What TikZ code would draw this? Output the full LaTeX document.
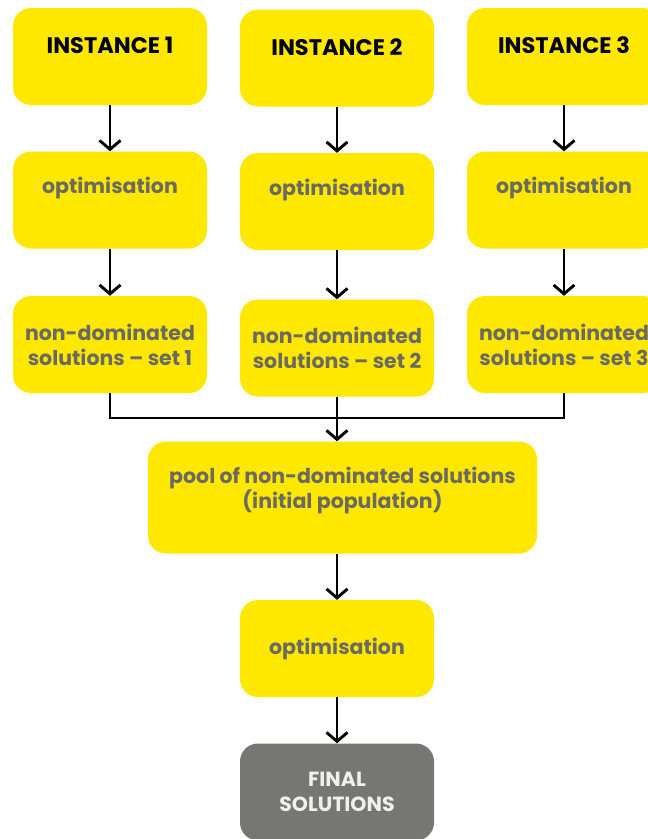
\documentclass[tikz,border=0pt]{standalone}
\usepackage{fontspec}
\setmainfont{Poppins}
\usetikzlibrary{arrows.meta}
\definecolor{boxyellow}{HTML}{FFE800}
\definecolor{boxgray}{HTML}{767772}
\definecolor{labelgray}{HTML}{6A6A62}
\tikzset{
  ybox/.style={fill=boxyellow, draw=none, rounded corners=18pt,
    minimum width=194pt, minimum height=97pt, inner sep=0pt},
  gbox/.style={ybox, fill=boxgray},
  title/.style={font=\fontsize{22.5}{26}\selectfont\bfseries, text=black, inner sep=0pt},
  label/.style={font=\fontsize{20.5}{25}\selectfont\bfseries, text=labelgray,
    align=center, inner sep=0pt},
  finallabel/.style={label, text=white!94!black},
  flow/.style={draw=black, line width=2.9pt,
    -{Straight Barb[length=9pt,width=21pt,line width=2.9pt]}},
  bus/.style={draw=black, line width=2.9pt}
}
\begin{document}
\begin{tikzpicture}[x=1pt,y=-1pt]
\useasboundingbox[fill=white] (0,0) rectangle (648,839);

% column 1
\node[ybox] (i1) at (110,56.5) {};
\node[title] (i1t) at (110,45) {INSTANCE 1};
\node[ybox] (o1) at (110,200) {};
\node[label] (o1t) at (110,188) {optimisation};
\node[ybox] (n1) at (110,344.5) {};
\node[label] (n1t) at (110,345) {non-dominated\\solutions -- set 1};

% column 2
\node[ybox] (i2) at (337,58) {};
\node[title] (i2t) at (337,47) {INSTANCE 2};
\node[ybox] (o2) at (337,201.5) {};
\node[label] (o2t) at (337,190) {optimisation};
\node[ybox] (n2) at (337,348) {};
\node[label] (n2t) at (337,348) {non-dominated\\solutions -- set 2};

% column 3 (runs past the right edge)
\node[ybox] (i3) at (564,56.5) {};
\node[title] (i3t) at (564,45) {INSTANCE 3};
\node[ybox] (o3) at (564,200) {};
\node[label] (o3t) at (564,188) {optimisation};
\node[ybox] (n3) at (564,344.5) {};
\node[label] (n3t) at (564,345) {non-dominated\\solutions -- set 3};

% merged stage
\node[ybox, minimum width=389pt, minimum height=112pt] (pool) at (342.5,497.5) {};
\node[label] (poolt) at (342.5,491) {pool of non-dominated solutions\\(initial population)};
\node[ybox] (o4) at (337,648.5) {};
\node[label] (o4t) at (337,649) {optimisation};
\node[gbox] (fin) at (337,792) {};
\node[finallabel] (fint) at (337,792) {FINAL\\SOLUTIONS};

% vertical flow in each column
\draw[flow] (i1.south) -- (o1.north);
\draw[flow] (o1.south) -- (n1.north);
\draw[flow] (i2.south) -- (o2.north);
\draw[flow] (o2.south) -- (n2.north);
\draw[flow] (i3.south) -- (o3.north);
\draw[flow] (o3.south) -- (n3.north);

% collecting bus into the pool
\coordinate (busL) at (110,418);
\coordinate (busR) at (564,418);
\coordinate (busM) at (337,418);
\draw[bus] (n1.south) -- (busL) -- (busR) -- (n3.south);
\draw[bus] (n2.south) -- (busM);
\draw[flow] (busM) -- (pool.north -| busM);

% final stages
\draw[flow] (pool.south -| o4.north) -- (o4.north);
\draw[flow] (o4.south) -- (fin.north);
\end{tikzpicture}
\end{document}
